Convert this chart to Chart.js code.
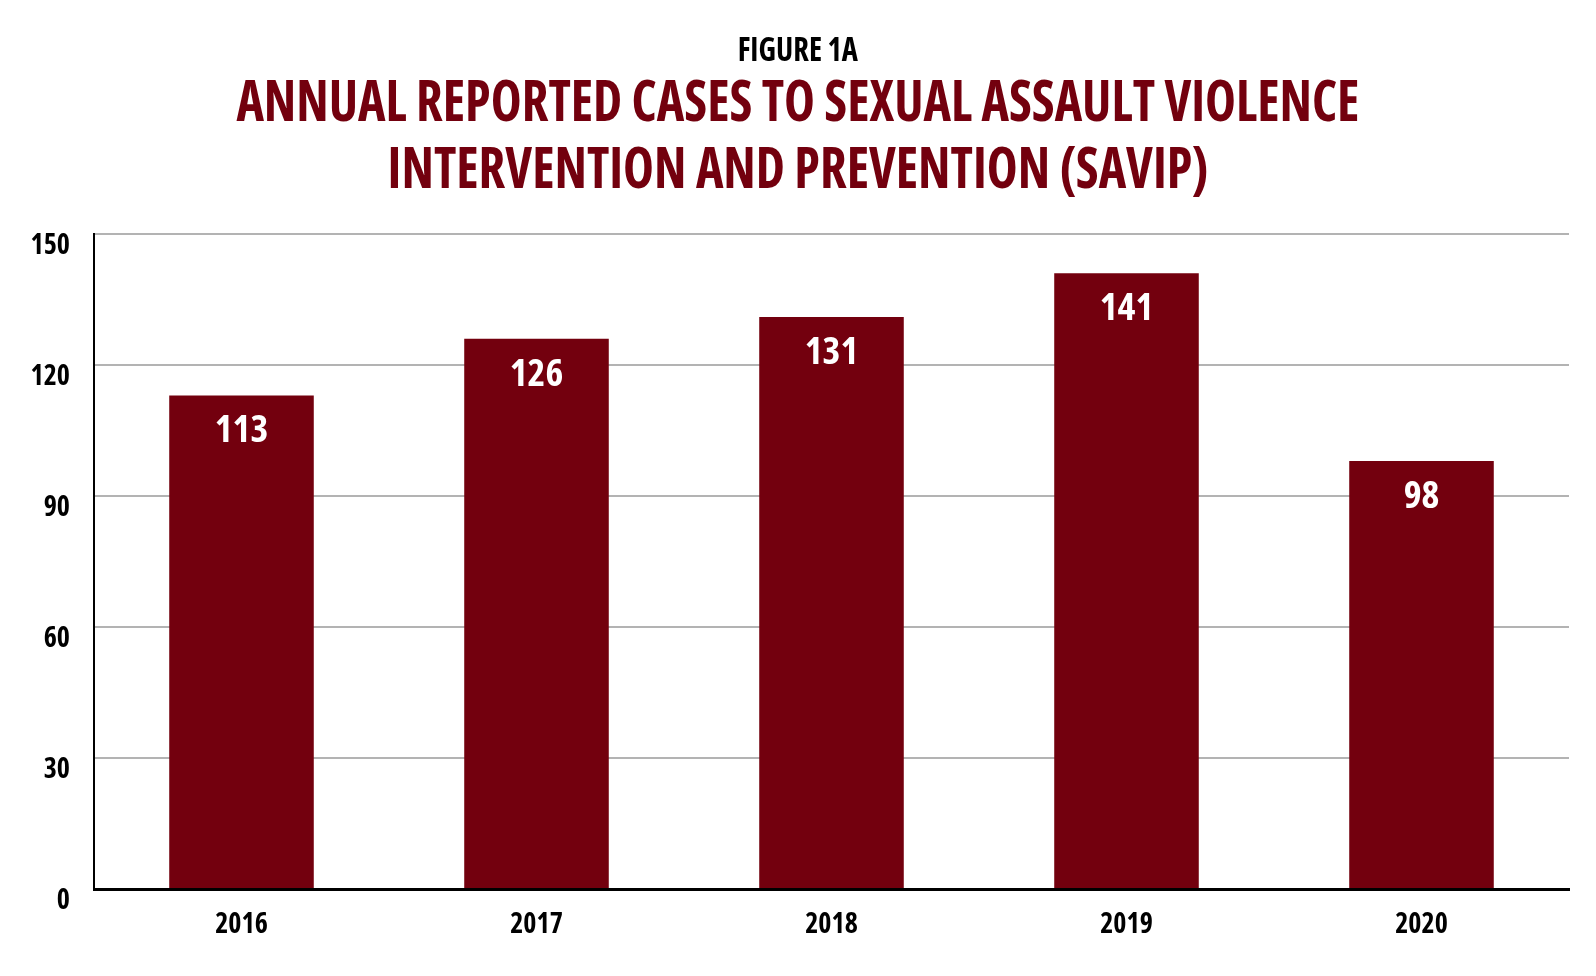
<!DOCTYPE html>
<html lang="en">
<head>
  <meta charset="UTF-8">
  <title>Annual Reported Cases to SAVIP</title>
  <style>
    body {
      margin: 0;
      background: #fff;
      overflow: hidden;
      font-family: "Open Sans", sans-serif;
    }
    .wrap {
      position: relative;
      width: 1596px;
      height: 976px;
      overflow: hidden;
    }
    canvas {
      position: absolute;
      left: 0;
      top: 0;
    }
    .line {
      position: absolute;
      left: 0;
      width: 1596px;
      text-align: center;
      white-space: nowrap;
      font-weight: bold;
      font-stretch: condensed;
      line-height: 1;
    }
    .line span {
      display: inline-block;
      transform: scaleX(0.9);
      transform-origin: center;
    }
    .fig {
      top: 31px;
      font-size: 34px;
      color: #000;
    }
    .main {
      font-size: 58px;
      color: #73000e;
    }
  </style>
</head>
<body>
  <div class="wrap">
    <canvas id="chart" width="1596" height="976"></canvas>
    <div class="line fig"><span>FIGURE 1A</span></div>
    <div class="line main" style="top:70px"><span>ANNUAL REPORTED CASES TO SEXUAL ASSAULT VIOLENCE</span></div>
    <div class="line main" style="top:137px"><span>INTERVENTION AND PREVENTION (SAVIP)</span></div>
  </div>

  <script src="https://cdn.jsdelivr.net/npm/chart.js"></script>
  <script>
    const years = ["2016", "2017", "2018", "2019", "2020"];
    const cases = [113, 126, 131, 141, 98];
    const yTicks = [0, 30, 60, 90, 120, 150];

    const maroon = "#73000e";
    const fontFamily = '"Open Sans", sans-serif';
    // "condensed" goes in front of the weight so the canvas picks the narrow Open Sans
    const fontWeight = "condensed bold";

    // white numbers inside the top of each bar
    const barLabels = {
      id: "barLabels",
      afterDatasetsDraw(chart) {
        const ctx = chart.ctx;
        const meta = chart.getDatasetMeta(0);
        ctx.save();
        ctx.fillStyle = "#fff";
        ctx.font = fontWeight + " 38px " + fontFamily;
        ctx.textAlign = "center";
        ctx.textBaseline = "middle";
        meta.data.forEach((bar, i) => {
          ctx.fillText(String(cases[i]), bar.x, bar.y + 36);
        });
        ctx.restore();
      }
    };

    new Chart(document.getElementById("chart"), {
      type: "bar",
      data: {
        labels: years,
        datasets: [{
          data: cases,
          backgroundColor: maroon,
          barPercentage: 0.49,
          categoryPercentage: 1
        }]
      },
      options: {
        responsive: false,
        animation: false,
        layout: {
          padding: { top: 234, right: 27, bottom: 0, left: 0 }
        },
        plugins: {
          legend: { display: false },
          tooltip: { enabled: false }
        },
        scales: {
          x: {
            grid: { display: false, drawTicks: false },
            border: { color: "#000", width: 3 },
            ticks: {
              color: "#000",
              padding: 19,
              font: { family: fontFamily, size: 28, weight: fontWeight }
            },
            afterFit(scale) { scale.height = 87; }
          },
          y: {
            min: 0,
            max: 150,
            afterBuildTicks(scale) {
              scale.ticks = yTicks.map(v => ({ value: v }));
            },
            grid: { color: "#b3b3b3", lineWidth: 2, drawTicks: false },
            border: { color: "#000", width: 2 },
            ticks: {
              color: "#000",
              padding: 24,
              labelOffset: 12,
              font: { family: fontFamily, size: 28, weight: fontWeight }
            },
            afterFit(scale) { scale.width = 94; }
          }
        }
      },
      plugins: [barLabels]
    });
  </script>
</body>
</html>
